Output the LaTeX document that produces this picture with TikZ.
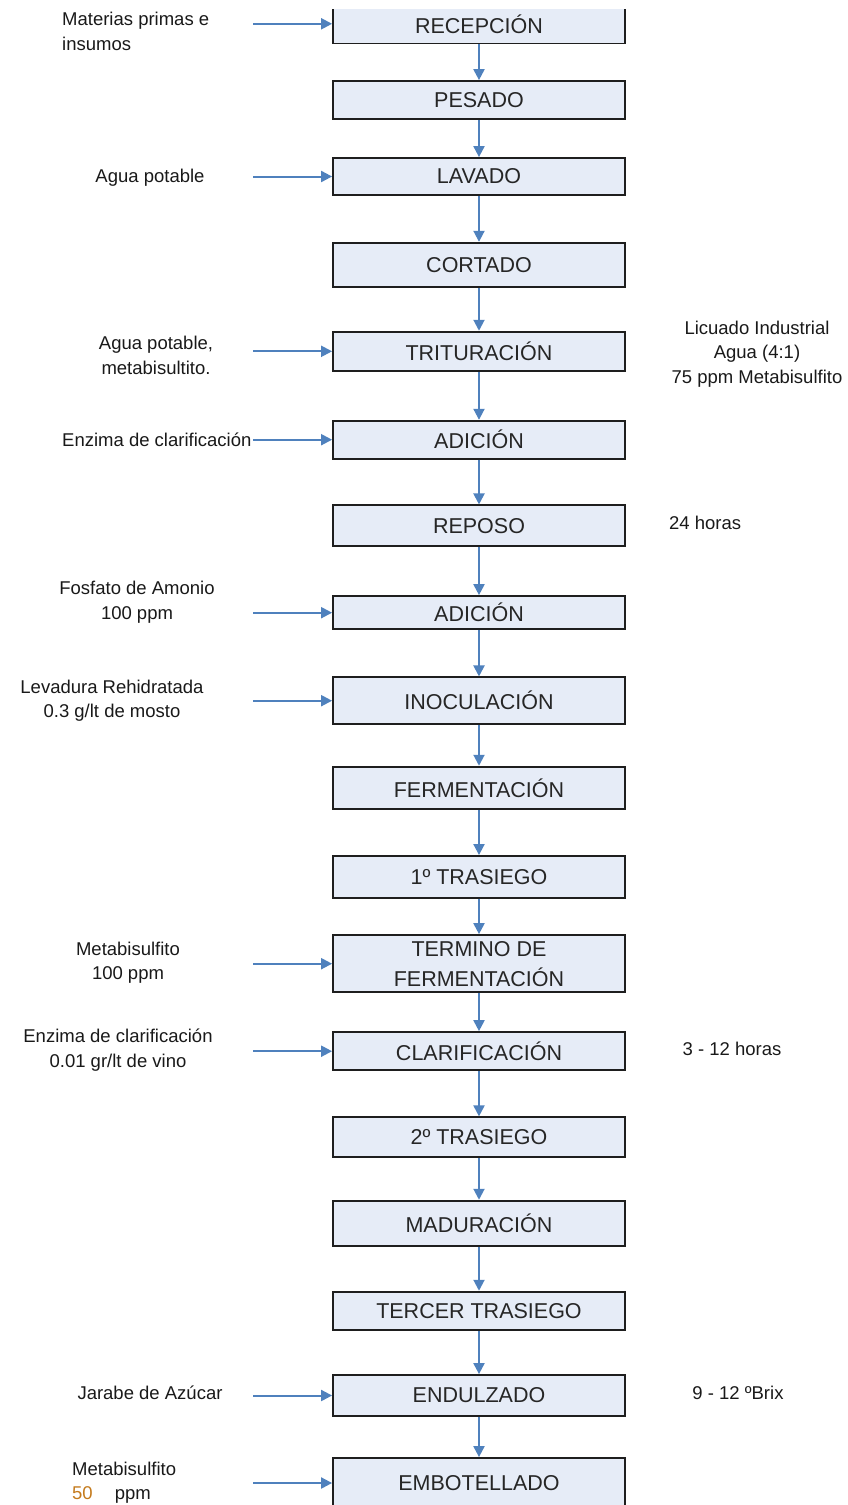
\documentclass[tikz,border=0pt]{standalone}
\usepackage{fontspec}
\setmainfont{Liberation Sans}
\usetikzlibrary{arrows.meta}
\definecolor{flowblue}{RGB}{79,129,189}
\definecolor{boxfill}{RGB}{230,236,247}
\definecolor{boxline}{RGB}{30,30,30}
\definecolor{dose}{RGB}{196,122,28}
\tikzset{
  stage/.style={draw=boxline, line width=1.8pt, fill=boxfill, minimum width=292pt,
    inner sep=0pt, align=center, font=\fontsize{21.5}{30}\selectfont, text=black!85},
  flow/.style={draw=flowblue, line width=2pt, -{Triangle[length=11pt,width=11pt]}},
  note/.style={font=\fontsize{18.5}{24.5}\selectfont, inner sep=0pt, align=center, text=black!90},
}
\begin{document}
\begin{tikzpicture}[x=1pt,y=-1pt]
\useasboundingbox (0,0) rectangle (848,1505);
\clip (0,9) rectangle (848,1505);

% process stages
\node[stage, minimum height=39.5pt] (b1)  at (479,23.8)   {RECEPCIÓN};
\node[stage, minimum height=38.3pt] (b2)  at (479,100.2)  {PESADO};
\node[stage, minimum height=37pt]   (b3)  at (479,176.5)  {LAVADO};
\node[stage, minimum height=44pt]   (b4)  at (479,264.7)  {CORTADO};
\node[stage, minimum height=39.3pt] (b5)  at (479,351.3)  {TRITURACIÓN};
\node[stage, minimum height=38pt]   (b6)  at (479,439.7)  {ADICIÓN};
\node[stage, minimum height=40.7pt] (b7)  at (479,525.7)  {REPOSO};
\node[stage, minimum height=33.3pt] (b8)  at (479,612.7)  {ADICIÓN};
\node[stage, minimum height=46.7pt] (b9)  at (479,700.7)  {INOCULACIÓN};
\node[stage, minimum height=42.7pt] (b10) at (479,788)    {FERMENTACIÓN};
\node[stage, minimum height=41.7pt] (b11) at (479,876.8)  {1º TRASIEGO};
\node[stage, minimum height=57.3pt] (b12) at (479,963.7)  {TERMINO DE\\FERMENTACIÓN};
\node[stage, minimum height=38.3pt] (b13) at (479,1051.2) {CLARIFICACIÓN};
\node[stage, minimum height=40pt]   (b14) at (479,1137.3) {2º TRASIEGO};
\node[stage, minimum height=45.3pt] (b15) at (479,1223.3) {MADURACIÓN};
\node[stage, minimum height=38.3pt] (b16) at (479,1310.8) {TERCER TRASIEGO};
\node[stage, minimum height=41pt]   (b17) at (479,1395.5) {ENDULZADO};
\node[stage, minimum height=50pt]   (b18) at (479,1483)   {EMBOTELLADO};

% main flow
\foreach \a/\b in {b1/b2,b2/b3,b3/b4,b4/b5,b5/b6,b6/b7,b7/b8,b8/b9,b9/b10,
                   b10/b11,b11/b12,b12/b13,b13/b14,b14/b15,b15/b16,b16/b17,b17/b18}
  \draw[flow] (\a) -- (\b);

% inputs on the left
\coordinate (L) at (253,0);
\node[note, align=left, anchor=west] (m1) at (62,31.5) {Materias primas e\\insumos};
\node[note] (m3)  at (150,178)   {Agua potable};
\node[note] (m5)  at (156,355.5) {Agua potable,\\metabisultito.};
\node[note, anchor=west] (m6) at (62,440) {Enzima de clarificación};
\node[note] (m8)  at (137,602)   {Fosfato de Amonio\\100 ppm};
\node[note] (m9)  at (112,700.5) {Levadura Rehidratada\\0.3 g/lt de mosto};
\node[note] (m12) at (128,962.5) {Metabisulfito\\100 ppm};
\node[note] (m13) at (118,1050)  {Enzima de clarificación\\0.01 gr/lt de vino};
\node[note] (m17) at (150,1393)  {Jarabe de Azúcar};
\node[note, align=left, anchor=west] (m18) at (72,1482.5)
  {Metabisulfito\\\textcolor{dose}{50}\hspace{22pt}ppm};

\foreach \b in {b1,b3,b5,b6,b8,b9,b12,b13,b17,b18}
  \draw[flow] (\b.west -| L) -- (\b.west);

% process conditions on the right
\node[note] (r5)  at (757,354)   {Licuado Industrial\\Agua (4:1)\\75 ppm Metabisulfito};
\node[note, anchor=west] (r7) at (669,523) {24 horas};
\node[note] (r13) at (732,1049)  {3 - 12 horas};
\node[note] (r17) at (738,1393)  {9 - 12 ºBrix};
\end{tikzpicture}
\end{document}
